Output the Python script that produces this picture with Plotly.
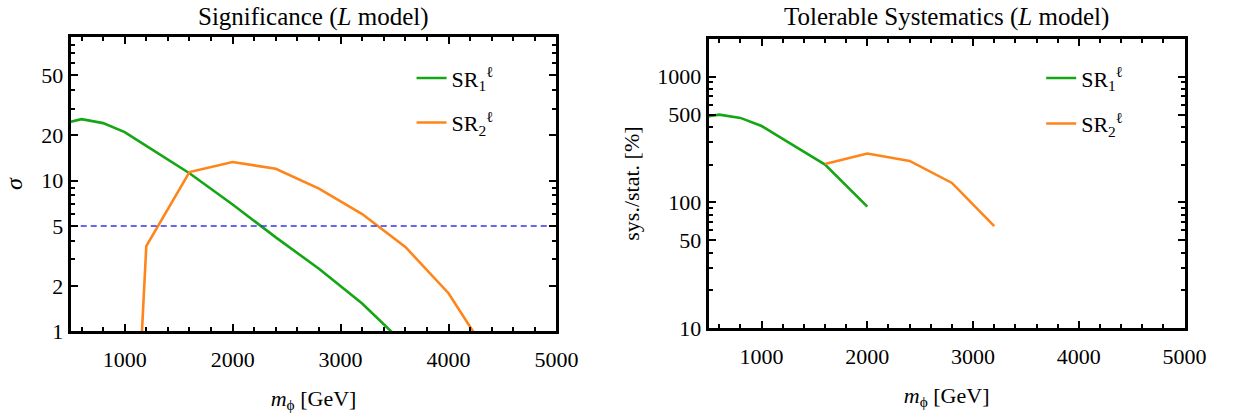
import plotly.graph_objects as go

# ---- data ----
m_sig_sr1 = [500, 600, 800, 1000, 1200, 1600, 2000, 2400, 2800, 3200, 3600]
sig_sr1 = [24.6, 25.6, 24.1, 21.0, 17.0, 11.2, 6.95, 4.2, 2.6, 1.53, 0.81]
m_sig_sr2 = [1100, 1200, 1600, 2000, 2400, 2800, 3200, 3600, 4000, 4400]
sig_sr2 = [0.14, 3.67, 11.4, 13.3, 12.0, 8.85, 6.0, 3.63, 1.79, 0.64]
discovery = 5

m_sys_sr1 = [500, 600, 800, 1000, 1200, 1600, 2000]
sys_sr1 = [484, 499, 470, 405, 320, 200, 92.7]
m_sys_sr2 = [1600, 2000, 2400, 2800, 3200]
sys_sr2 = [202, 245, 214, 143, 65]

x_ticks = [1000, 2000, 3000, 4000, 5000]
y1_ticks = [1, 2, 5, 10, 20, 50]
y2_ticks = [10, 50, 100, 500, 1000]

GREEN = "#14A614"
ORANGE = "#FF8419"
BLUE = "#3535F0"
FONT = "Liberation Serif"

fig = go.Figure()
fig.add_trace(go.Scatter(x=m_sig_sr1, y=sig_sr1, mode="lines", line=dict(color=GREEN, width=2.6),
                         name="SR<sub>1</sub><sup>ℓ</sup>", legendgroup="a", xaxis="x", yaxis="y", legend="legend"))
fig.add_trace(go.Scatter(x=m_sig_sr2, y=sig_sr2, mode="lines", line=dict(color=ORANGE, width=2.6),
                         name="SR<sub>2</sub><sup>ℓ</sup>", legendgroup="b", xaxis="x", yaxis="y", legend="legend"))
fig.add_trace(go.Scatter(x=[500, 5000], y=[discovery, discovery], mode="lines",
                         line=dict(color=BLUE, width=1.5, dash="6px,4px"), showlegend=False,
                         xaxis="x", yaxis="y", hoverinfo="skip"))
fig.add_trace(go.Scatter(x=m_sys_sr1, y=sys_sr1, mode="lines", line=dict(color=GREEN, width=2.6),
                         name="SR<sub>1</sub><sup>ℓ</sup>", legendgroup="c", xaxis="x2", yaxis="y2", legend="legend2"))
fig.add_trace(go.Scatter(x=m_sys_sr2, y=sys_sr2, mode="lines", line=dict(color=ORANGE, width=2.6),
                         name="SR<sub>2</sub><sup>ℓ</sup>", legendgroup="d", xaxis="x2", yaxis="y2", legend="legend2"))

W, H = 1240, 414
L1, R1, T1, B1 = 72, 566.5, 38, 342
L2, R2, T2, B2 = 721.5, 1206, 40, 339

common_x = dict(range=[500, 5000], tickvals=x_ticks, ticks="inside", ticklen=7, tickwidth=2,
                tickcolor="black", showline=True, linewidth=3, linecolor="black", mirror="allticks",
                showgrid=False, zeroline=False, ticklabelstandoff=6,
                minor=dict(dtick=200, tick0=0, ticks="inside", ticklen=4, tickwidth=2, tickcolor="black"),
                tickfont=dict(family=FONT, size=22, color="black"),
                title=dict(text="<i>m</i><sub>ϕ</sub> [GeV]", font=dict(family=FONT, size=22, color="black"), standoff=20))
minor1 = [3, 4, 6, 7, 8, 9, 30, 40, 60, 70, 80, 90]
minor2 = [20, 30, 40, 60, 70, 80, 90, 200, 300, 400, 600, 700, 800, 900, 2000]
common_y = dict(type="log", ticks="inside", ticklen=7, tickwidth=2, tickcolor="black",
                showline=True, linewidth=3, linecolor="black", mirror="allticks",
                showgrid=False, zeroline=False,
                tickfont=dict(family=FONT, size=22, color="black"))

fig.update_layout(
    width=W, height=H, margin=dict(l=0, r=0, t=0, b=0),
    paper_bgcolor="white", plot_bgcolor="white",
    font=dict(family=FONT, size=22, color="black"),
    xaxis=dict(domain=[L1/W, R1/W], anchor="y", **common_x),
    yaxis=dict(domain=[1-B1/H, 1-T1/H], anchor="x", range=[0, 1.955], tickvals=y1_ticks,
               minor=dict(tickvals=minor1, ticks="inside", ticklen=4, tickwidth=2, tickcolor="black"),
               title=dict(text="<i>σ</i>", font=dict(family=FONT, size=24, color="black"), standoff=12),
               **common_y),
    xaxis2=dict(domain=[L2/W, R2/W], anchor="y2", **common_x),
    yaxis2=dict(domain=[1-B2/H, 1-T2/H], anchor="x2", range=[1, 3.301], tickvals=y2_ticks,
                minor=dict(tickvals=minor2, ticks="inside", ticklen=4, tickwidth=2, tickcolor="black"),
                title=dict(text="sys./stat. [%]", font=dict(family=FONT, size=22, color="black"), standoff=12),
                **common_y),
    legend=dict(x=419/W, y=1-59/H, xanchor="left", yanchor="top", bgcolor="rgba(0,0,0,0)",
                tracegroupgap=13, font=dict(family=FONT, size=22, color="black")),
    legend2=dict(x=1060/W, y=1-59/H, xanchor="left", yanchor="top", bgcolor="rgba(0,0,0,0)",
                 tracegroupgap=14, font=dict(family=FONT, size=22, color="black")),
    annotations=[
        dict(text="Significance (<i>L</i> model)", x=(L1+R1)/2/W, y=1-18/H, xref="paper", yref="paper",
             showarrow=False, xanchor="center", yanchor="middle", font=dict(family=FONT, size=25, color="black")),
        dict(text="Tolerable Systematics (<i>L</i> model)", x=(L2+R2)/2/W, y=1-18/H, xref="paper", yref="paper",
             showarrow=False, xanchor="center", yanchor="middle", font=dict(family=FONT, size=25, color="black")),
    ],
)

fig.write_html("out.html")
with open("out.html", "r", encoding="utf-8") as f:
    html = f.read()
html = html.replace("<head>", "<head><style>html,body{margin:0;padding:0;overflow:hidden;}</style>", 1)
with open("out.html", "w", encoding="utf-8") as f:
    f.write(html)
